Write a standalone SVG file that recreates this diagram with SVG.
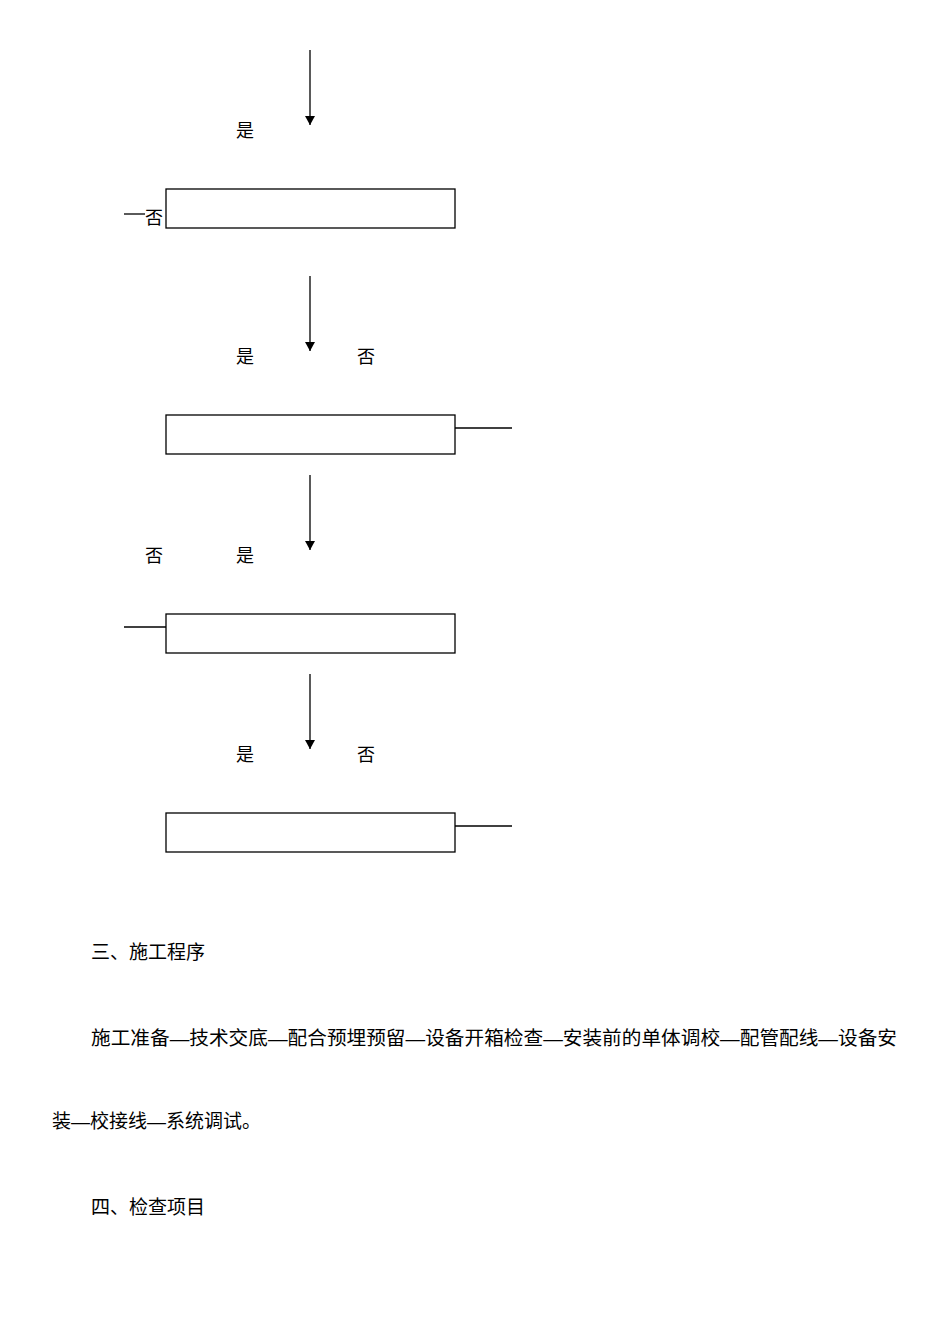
<svg xmlns="http://www.w3.org/2000/svg" width="950" height="1344" viewBox="0 0 950 1344">
<style>
text{font-family:"Liberation Sans","Noto Sans CJK SC",sans-serif;font-size:19px;fill:#000}
.l{font-size:18px}
.box{fill:#fff;stroke:#000;stroke-width:1.3}
line{stroke:#000;stroke-width:1.3}
</style>
<defs><marker id="a" markerWidth="10" markerHeight="10" refX="9" refY="5" orient="auto" markerUnits="userSpaceOnUse"><path d="M0,0L9,5L0,10z" fill="#000"/></marker></defs>
<rect width="950" height="1344" fill="#fff"/>
<g id="connectors">
<line x1="310" y1="50" x2="310" y2="125" marker-end="url(#a)"/>
<line x1="310" y1="276" x2="310" y2="351" marker-end="url(#a)"/>
<line x1="310" y1="475" x2="310" y2="550" marker-end="url(#a)"/>
<line x1="310" y1="674" x2="310" y2="749" marker-end="url(#a)"/>
<line x1="124" y1="214" x2="145" y2="214"/>
<line x1="455" y1="428" x2="512" y2="428"/>
<line x1="124" y1="627" x2="166" y2="627"/>
<line x1="455" y1="826" x2="512" y2="826"/>
</g>
<g id="n1"><rect class="box" x="166" y="189" width="289" height="39"/></g>
<g id="n2"><rect class="box" x="166" y="415" width="289" height="39"/></g>
<g id="n3"><rect class="box" x="166" y="614" width="289" height="39"/></g>
<g id="n4"><rect class="box" x="166" y="813" width="289" height="39"/></g>
<g id="labels">
<text class="l" x="236" y="137">是</text>
<text class="l" x="145" y="224">否</text>
<text class="l" x="236" y="363">是</text>
<text class="l" x="357" y="363">否</text>
<text class="l" x="145" y="562">否</text>
<text class="l" x="236" y="562">是</text>
<text class="l" x="236" y="761">是</text>
<text class="l" x="357" y="761">否</text>
</g>
<text x="91" y="959">三、施工程序</text>
<text x="91" y="1045" textLength="806" lengthAdjust="spacingAndGlyphs">施工准备—技术交底—配合预埋预留—设备开箱检查—安装前的单体调校—配管配线—设备安</text>
<text x="52" y="1128">装—校接线—系统调试。</text>
<text x="91" y="1214">四、检查项目</text>
</svg>
